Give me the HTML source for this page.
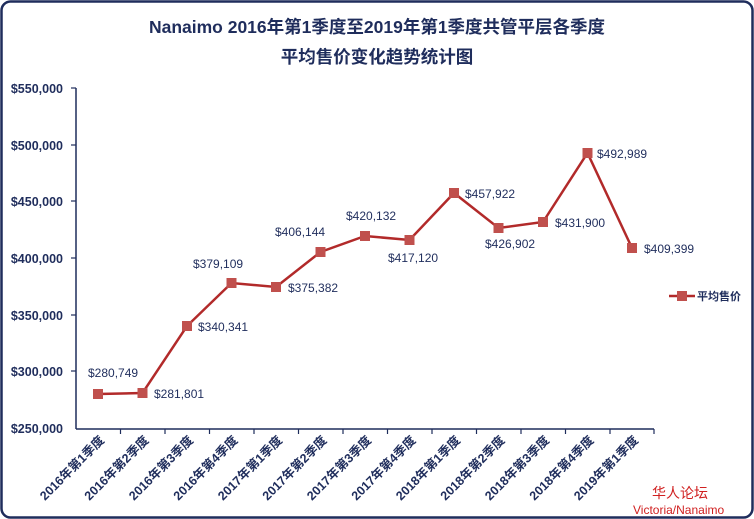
<!DOCTYPE html>
<html><head><meta charset="utf-8"><style>
body{margin:0;background:#fff}
svg{display:block}
text{font-family:"Liberation Sans","Noto Sans CJK SC",sans-serif}
</style></head><body>
<svg width="754" height="519" xmlns="http://www.w3.org/2000/svg">
<rect x="1.5" y="1.5" width="751" height="516" rx="9" fill="#fff" stroke="#1f2d5c" stroke-width="2.5"/>
<text x="377" y="33" text-anchor="middle" font-size="17.5" font-weight="bold" fill="#1f2d5c">Nanaimo 2016年第1季度至2019年第1季度共管平层各季度</text>
<text x="377" y="63" text-anchor="middle" font-size="17.5" font-weight="bold" fill="#1f2d5c">平均售价变化趋势统计图</text>
<g stroke="#1f2d5c" stroke-width="1.5">
<line x1="76" y1="88" x2="76" y2="429"/>
<line x1="76" y1="429" x2="654" y2="429"/>
</g>
<g font-size="12.5" font-weight="bold" fill="#1f2d5c" text-anchor="end">
<text x="63" y="93">$550,000</text>
<text x="63" y="150">$500,000</text>
<text x="63" y="206">$450,000</text>
<text x="63" y="263">$400,000</text>
<text x="63" y="320">$350,000</text>
<text x="63" y="376">$300,000</text>
<text x="63" y="433">$250,000</text>
</g>
<g stroke="#1f2d5c" stroke-width="1.2">
<line x1="71" y1="88" x2="76" y2="88"/><line x1="71" y1="145" x2="76" y2="145"/><line x1="71" y1="201" x2="76" y2="201"/><line x1="71" y1="258" x2="76" y2="258"/><line x1="71" y1="315" x2="76" y2="315"/><line x1="71" y1="371" x2="76" y2="371"/>
<line x1="120.5" y1="429" x2="120.5" y2="434"/><line x1="165" y1="429" x2="165" y2="434"/><line x1="209.5" y1="429" x2="209.5" y2="434"/><line x1="254" y1="429" x2="254" y2="434"/><line x1="298.5" y1="429" x2="298.5" y2="434"/><line x1="343" y1="429" x2="343" y2="434"/><line x1="387.5" y1="429" x2="387.5" y2="434"/><line x1="432" y1="429" x2="432" y2="434"/><line x1="476.5" y1="429" x2="476.5" y2="434"/><line x1="521" y1="429" x2="521" y2="434"/><line x1="565.5" y1="429" x2="565.5" y2="434"/><line x1="610" y1="429" x2="610" y2="434"/><line x1="654" y1="429" x2="654" y2="434"/>
</g>
<g font-size="12.5" font-weight="bold" fill="#1f2d5c" text-anchor="end">
<text transform="translate(105,441) rotate(-45)">2016年第1季度</text>
<text transform="translate(149.5,441) rotate(-45)">2016年第2季度</text>
<text transform="translate(194,441) rotate(-45)">2016年第3季度</text>
<text transform="translate(238.5,441) rotate(-45)">2016年第4季度</text>
<text transform="translate(283,441) rotate(-45)">2017年第1季度</text>
<text transform="translate(327.5,441) rotate(-45)">2017年第2季度</text>
<text transform="translate(372,441) rotate(-45)">2017年第3季度</text>
<text transform="translate(416.5,441) rotate(-45)">2017年第4季度</text>
<text transform="translate(461,441) rotate(-45)">2018年第1季度</text>
<text transform="translate(505.5,441) rotate(-45)">2018年第2季度</text>
<text transform="translate(550,441) rotate(-45)">2018年第3季度</text>
<text transform="translate(594.5,441) rotate(-45)">2018年第4季度</text>
<text transform="translate(639,441) rotate(-45)">2019年第1季度</text>
</g>
<polyline fill="none" stroke="#b22a2a" stroke-width="2.5" points="98,394 142.5,393 187,326 231.5,283 276,287 320.5,252 365,236 409.5,240 454,193 498.5,228 543,222 587.5,153 632,248"/>
<g fill="#c0504d">
<rect x="93" y="389" width="10" height="10"/><rect x="137.5" y="388" width="10" height="10"/><rect x="182" y="321" width="10" height="10"/><rect x="226.5" y="278" width="10" height="10"/><rect x="271" y="282" width="10" height="10"/><rect x="315.5" y="247" width="10" height="10"/><rect x="360" y="231" width="10" height="10"/><rect x="404.5" y="235" width="10" height="10"/><rect x="449" y="188" width="10" height="10"/><rect x="493.5" y="223" width="10" height="10"/><rect x="538" y="217" width="10" height="10"/><rect x="582.5" y="148" width="10" height="10"/><rect x="627" y="243" width="10" height="10"/>
</g>
<g font-size="12" fill="#1f2d5c">
<text x="88" y="377">$280,749</text>
<text x="154" y="398">$281,801</text>
<text x="198" y="331">$340,341</text>
<text x="193" y="268">$379,109</text>
<text x="288" y="292">$375,382</text>
<text x="275" y="236">$406,144</text>
<text x="346" y="220">$420,132</text>
<text x="388" y="262">$417,120</text>
<text x="465" y="198">$457,922</text>
<text x="485" y="248">$426,902</text>
<text x="555" y="227">$431,900</text>
<text x="597" y="158">$492,989</text>
<text x="644" y="253">$409,399</text>
</g>
<line x1="669" y1="296" x2="695" y2="296" stroke="#b22a2a" stroke-width="2.5"/>
<rect x="677" y="291" width="10" height="10" fill="#c0504d"/>
<text x="697" y="300" font-size="11" font-weight="bold" fill="#1f2d5c">平均售价</text>
<text x="652" y="498" font-size="14" fill="#d02020">华人论坛</text>
<text x="633" y="514" font-size="12" fill="#d02020">Victoria/Nanaimo</text>
</svg>
</body></html>
